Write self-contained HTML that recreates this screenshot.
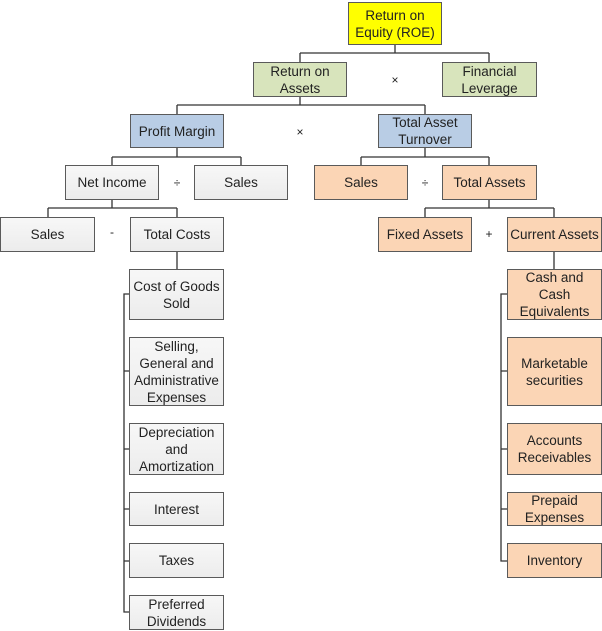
<!DOCTYPE html>
<html><head><style>
body{margin:0;width:602px;height:631px;background:#fff;position:relative;overflow:hidden;font-family:"Liberation Sans",Arial,sans-serif;}
.b{position:absolute;box-sizing:border-box;border:1.5px solid #5a5a5a;display:flex;align-items:center;justify-content:center;text-align:center;font-size:13.5px;line-height:17px;color:#222;}
.g{background:linear-gradient(#f7f7f7,#ececec);}
.gr{background:#d8e4bc;}
.bl{background:#b9cde5;}
.o{background:#fbd5b5;}
.y{background:#ffff00;}
.op{position:absolute;font-size:12px;color:#222;transform:translate(-50%,-50%);}
svg{position:absolute;left:0;top:0;}
</style></head><body>
<svg width="602" height="631"><g stroke="#333" stroke-width="1.3" fill="none">
<path d="M395 45V53M300 53H489M300 53V62M489 53V62"/>
<path d="M300 97V105M177 105H425M177 105V114M425 105V114"/>
<path d="M177 148V157M112 157H241M112 157V165M241 157V165"/>
<path d="M425 148V157M361 157H489M361 157V165M489 157V165"/>
<path d="M112 200V208M48 208H177M48 208V217M177 208V217"/>
<path d="M489 200V208M425 208H554M425 208V217M554 208V217"/>
<path d="M177 252V269M554 252V269"/>
<path d="M129 294H124V612H129M124 371H129M124 449H129M124 509H129M124 561H129"/>
<path d="M507 294H501V561H507M501 371H507M501 449H507M501 509H507"/>
</g></svg>
<div class="b y" style="left:348px;top:2px;width:94px;height:43px">Return on<br>Equity (ROE)</div>
<div class="b gr" style="left:253px;top:62px;width:94px;height:35px">Return on<br>Assets</div>
<div class="b gr" style="left:442px;top:62px;width:95px;height:35px">Financial<br>Leverage</div>
<div class="op" style="left:395px;top:80px">×</div>
<div class="b bl" style="left:130px;top:114px;width:94px;height:34px">Profit Margin</div>
<div class="b bl" style="left:378px;top:114px;width:94px;height:34px">Total Asset<br>Turnover</div>
<div class="op" style="left:300px;top:132px">×</div>
<div class="b g" style="left:65px;top:165px;width:94px;height:35px">Net Income</div>
<div class="b g" style="left:194px;top:165px;width:94px;height:35px">Sales</div>
<div class="op" style="left:177px;top:183px">÷</div>
<div class="b o" style="left:314px;top:165px;width:94px;height:35px">Sales</div>
<div class="b o" style="left:442px;top:165px;width:95px;height:35px">Total Assets</div>
<div class="op" style="left:425px;top:183px">÷</div>
<div class="b g" style="left:0px;top:217px;width:95px;height:35px">Sales</div>
<div class="b g" style="left:130px;top:217px;width:94px;height:35px">Total Costs</div>
<div class="op" style="left:112px;top:232px">-</div>
<div class="b o" style="left:378px;top:217px;width:94px;height:35px">Fixed Assets</div>
<div class="b o" style="left:507px;top:217px;width:95px;height:35px">Current Assets</div>
<div class="op" style="left:489px;top:234px">+</div>
<div class="b g" style="left:129px;top:269px;width:95px;height:51px">Cost of Goods<br>Sold</div>
<div class="b g" style="left:129px;top:337px;width:95px;height:69px">Selling,<br>General and<br>Administrative<br>Expenses</div>
<div class="b g" style="left:129px;top:423px;width:95px;height:52px">Depreciation<br>and<br>Amortization</div>
<div class="b g" style="left:129px;top:492px;width:95px;height:34px">Interest</div>
<div class="b g" style="left:129px;top:543px;width:95px;height:35px">Taxes</div>
<div class="b g" style="left:129px;top:595px;width:95px;height:35px">Preferred<br>Dividends</div>
<div class="b o" style="left:507px;top:269px;width:95px;height:51px">Cash and<br>Cash<br>Equivalents</div>
<div class="b o" style="left:507px;top:337px;width:95px;height:69px">Marketable<br>securities</div>
<div class="b o" style="left:507px;top:423px;width:95px;height:52px">Accounts<br>Receivables</div>
<div class="b o" style="left:507px;top:492px;width:95px;height:34px">Prepaid<br>Expenses</div>
<div class="b o" style="left:507px;top:543px;width:95px;height:35px">Inventory</div>
</body></html>
